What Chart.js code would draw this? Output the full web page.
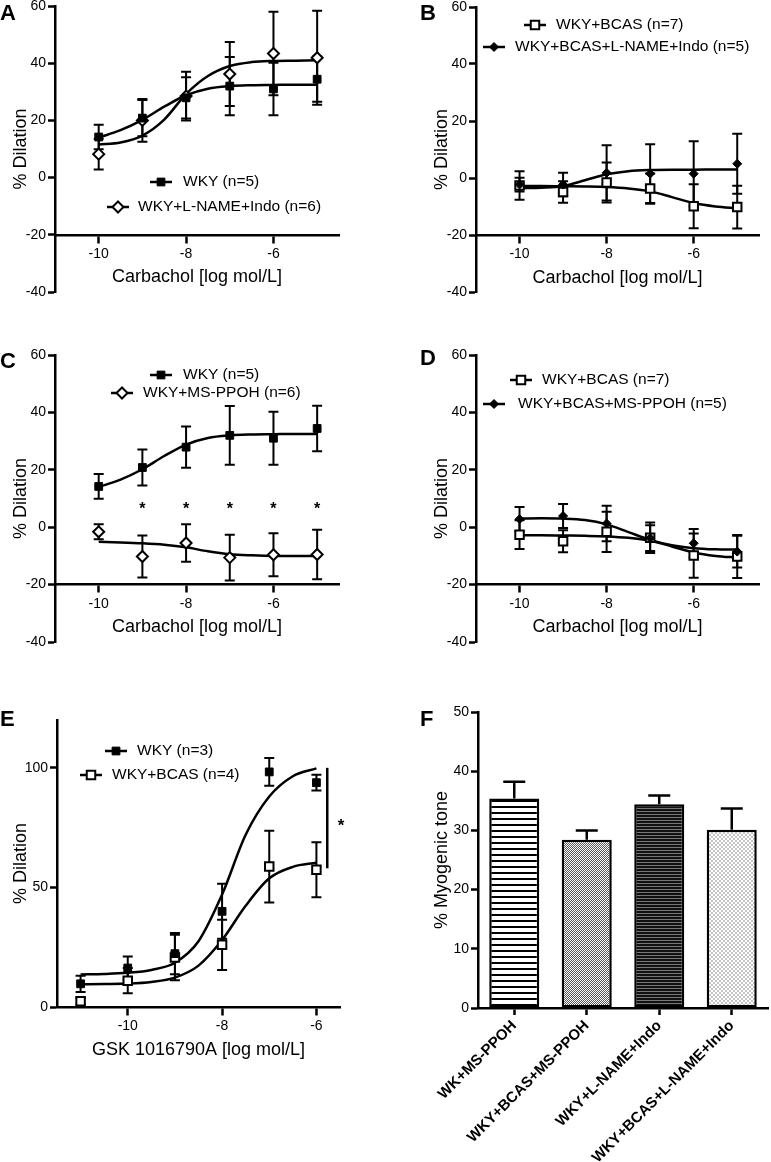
<!DOCTYPE html>
<html>
<head>
<meta charset="utf-8">
<script src="https://cdn.jsdelivr.net/npm/chart.js@4.4.0/dist/chart.umd.min.js"></script>
<style>
  body { margin: 0; background: #fff; width: 771px; height: 1162px; position: relative; overflow: hidden; }
  canvas { position: absolute; }
</style>
</head>
<body>
<canvas id="cA"></canvas>
<canvas id="cB"></canvas>
<canvas id="cC"></canvas>
<canvas id="cD"></canvas>
<canvas id="cE"></canvas>
<canvas id="cF"></canvas>
<script>
const FONT = "'Liberation Sans', Arial, Helvetica, sans-serif";

// --- carbachol panels (A-D) ---
const doseCarb = [-10, -9, -8, -7, -6, -5];
const fitCarb = [-10, -9.5, -9, -8.5, -8, -7.5, -7, -6.5, -6, -5.5, -5];
const carbTicksX = [-10, -8, -6];
const dilTicksY = [-40, -20, 0, 20, 40, 60];

const wkyMean = [14.2, 20.8, 27.9, 32.0, 31.0, 34.4];
const wkySem = [4.3, 6.3, 7.2, 10.2, 9.2, 7.9];
const wkyFit = [14.0, 16.6, 20.2, 24.8, 28.8, 31.1, 32.0, 32.3, 32.4, 32.5, 32.5];

const lnameMean = [8.2, 20.0, 28.5, 36.2, 43.4, 41.9];
const lnameSem = [5.4, 7.5, 8.5, 11.2, 14.6, 16.4];
const lnameFit = [11.6, 12.3, 14.7, 20.3, 29.2, 35.5, 39.0, 40.4, 40.8, 40.9, 41.0];

const bcasMean = [-2.6, -4.9, -1.6, -3.7, -9.9, -10.2];
const bcasSem = [5.0, 3.8, 7.0, 5.3, 7.7, 7.5];
const bcasFit = [-2.8, -2.8, -2.9, -3.0, -3.2, -3.7, -4.7, -6.7, -8.8, -10.0, -10.6];

const bcasLnMean = [-2.3, -2.3, 1.8, 1.5, 1.5, 5.0];
const bcasLnSem = [2.4, 4.1, 9.7, 10.3, 11.4, 10.5];
const bcasLnFit = [-3.6, -3.4, -2.8, -0.8, 1.3, 2.4, 2.8, 2.9, 2.9, 3.0, 3.0];

const ppohMean = [-1.6, -10.2, -5.5, -10.6, -9.6, -9.5];
const ppohSem = [2.6, 7.3, 6.5, 8.0, 7.5, 8.6];
const ppohFit = [-5.1, -5.3, -5.6, -6.1, -7.0, -8.4, -9.4, -9.8, -10.0, -10.0, -10.0];
const starsX = [-9, -8, -7, -6, -5];
const starsY = [7.2, 7.2, 7.2, 7.2, 7.2];

const bcasPpohMean = [2.8, 3.9, 1.3, -3.8, -5.6, -8.5];
const bcasPpohSem = [4.2, 4.2, 6.2, 4.5, 5.0, 5.5];
const bcasPpohFit = [3.0, 3.1, 3.0, 2.5, 1.0, -1.7, -4.4, -6.3, -7.3, -7.7, -7.8];

// --- GSK panel (E) ---
const doseGsk = [-11, -10, -9, -8, -7, -6];
const fitGsk = [-11, -10.5, -10, -9.5, -9, -8.5, -8, -7.5, -7, -6.5, -6];
const gskTicksX = [-10, -8, -6];
const gskTicksY = [0, 50, 100];
const wkyGskMean = [9.7, 16.3, 22.3, 40.0, 98.3, 93.8];
const wkyGskSem = [3.4, 4.8, 8.6, 11.5, 5.8, 3.3];
const wkyGskFit = [13.6, 13.8, 14.3, 15.5, 18.5, 27.5, 47.0, 72.0, 88.0, 96.5, 99.8];
const bcasGskMean = [2.4, 11.0, 20.7, 26.0, 58.7, 57.4];
const bcasGskSem = [1.5, 5.3, 9.5, 10.5, 15.0, 11.5];
const bcasGskFit = [9.5, 9.6, 9.8, 10.5, 12.3, 17.3, 28.0, 42.3, 53.8, 58.6, 60.3];
const sigLineX = -5.77;
const sigLineY = [58, 100];
const sigStarX = [-5.48];
const sigStarY = [77];

// --- myogenic tone (F) ---
const toneLabels = ['WK+MS-PPOH', 'WKY+BCAS+MS-PPOH', 'WKY+L-NAME+Indo', 'WKY+BCAS+L-NAME+Indo'];
const toneMean = [35.4, 28.4, 34.4, 30.1];
const toneSem = [2.8, 1.6, 1.5, 3.6];
const toneTicksY = [0, 10, 20, 30, 40, 50];

Chart.defaults.font.family = FONT;
Chart.defaults.color = '#000';

const MARK = {
  fillSq: { pointStyle: 'rect', pointRadius: 5.5, pointBackgroundColor: '#000', pointBorderColor: '#000', pointBorderWidth: 1 },
  openSq: { pointStyle: 'rect', pointRadius: 6, pointBackgroundColor: '#fff', pointBorderColor: '#000', pointBorderWidth: 2 },
  openDia: { pointStyle: 'rectRot', pointRadius: 5.5, pointBackgroundColor: '#fff', pointBorderColor: '#000', pointBorderWidth: 2 },
  fillDia: { pointStyle: 'rectRot', pointRadius: 4.5, pointBackgroundColor: '#000', pointBorderColor: '#000', pointBorderWidth: 1 }
};

function toPts(xs, ys) {
  return xs.map((x, i) => ({ x: x, y: ys[i] }));
}

// fitted curve, drawn under the points
function fitLine(xs, ys) {
  return {
    type: 'scatter', data: toPts(xs, ys), showLine: true, borderColor: '#000', borderWidth: 2.5,
    pointRadius: 0, cubicInterpolationMode: 'monotone', fill: false, order: 2
  };
}

// mean +/- sem points
function meanPts(xs, ys, errs, mark) {
  return Object.assign({ type: 'scatter', data: toPts(xs, ys), errors: errs, showLine: false, order: 0 }, mark);
}

function drawMarker(ctx, m, x, y) {
  const r = m.pointRadius;
  ctx.save();
  ctx.fillStyle = m.pointBackgroundColor;
  ctx.strokeStyle = m.pointBorderColor;
  ctx.lineWidth = m.pointBorderWidth;
  ctx.beginPath();
  if (m.pointStyle === 'rect') {
    const h = r * Math.SQRT1_2;
    ctx.rect(x - h, y - h, 2 * h, 2 * h);
  } else {
    ctx.moveTo(x - r, y); ctx.lineTo(x, y - r); ctx.lineTo(x + r, y); ctx.lineTo(x, y + r); ctx.closePath();
  }
  ctx.fill();
  ctx.stroke();
  ctx.restore();
}

const panelDecor = {
  id: 'panelDecor',
  beforeDatasetsDraw(chart) {
    // symmetric error bars for points
    const ctx = chart.ctx;
    const ys = chart.scales.y;
    chart.data.datasets.forEach((ds, i) => {
      if (!ds.errors || ds.errUp) return;
      const meta = chart.getDatasetMeta(i);
      ctx.save();
      ctx.strokeStyle = '#000';
      ctx.lineWidth = 2;
      meta.data.forEach((el, j) => {
        const v = ds.data[j].y, e = ds.errors[j];
        const t = ys.getPixelForValue(v + e), b = ys.getPixelForValue(v - e);
        ctx.beginPath();
        ctx.moveTo(el.x, t); ctx.lineTo(el.x, b);
        ctx.moveTo(el.x - 5, t); ctx.lineTo(el.x + 5, t);
        ctx.moveTo(el.x - 5, b); ctx.lineTo(el.x + 5, b);
        ctx.stroke();
      });
      ctx.restore();
    });
  },
  afterDatasetsDraw(chart, args, opts) {
    const ctx = chart.ctx;
    const xs = chart.scales.x, ys = chart.scales.y;
    // upward error bars for bars
    chart.data.datasets.forEach((ds, i) => {
      if (!ds.errUp) return;
      const meta = chart.getDatasetMeta(i);
      ctx.save();
      ctx.strokeStyle = '#000';
      ctx.lineWidth = 2.5;
      meta.data.forEach((el, j) => {
        const t = ys.getPixelForValue(ds.data[j] + ds.errors[j]);
        ctx.beginPath();
        ctx.moveTo(el.x, el.y); ctx.lineTo(el.x, t);
        ctx.moveTo(el.x - 11, t); ctx.lineTo(el.x + 11, t);
        ctx.stroke();
      });
      ctx.restore();
    });
    if (opts.stars) {
      ctx.save();
      ctx.fillStyle = '#000';
      ctx.font = opts.stars.font;
      ctx.textAlign = 'center';
      ctx.textBaseline = 'middle';
      opts.stars.x.forEach((x, i) => {
        ctx.fillText('*', xs.getPixelForValue(x), ys.getPixelForValue(opts.stars.y[i]) + 3);
      });
      ctx.restore();
    }
    if (opts.bracket) {
      const bx = xs.getPixelForValue(opts.bracket.x);
      ctx.save();
      ctx.strokeStyle = '#000';
      ctx.lineWidth = 2.5;
      ctx.beginPath();
      ctx.moveTo(bx, ys.getPixelForValue(opts.bracket.y[0]));
      ctx.lineTo(bx, ys.getPixelForValue(opts.bracket.y[1]));
      ctx.stroke();
      ctx.restore();
    }
  },
  afterDraw(chart, args, opts) {
    const ctx = chart.ctx;
    const ox = opts.box.l, oy = opts.box.t;
    (opts.legend || []).forEach(it => {
      const cx = it.cx - ox, cy = it.cy - oy;
      ctx.save();
      ctx.strokeStyle = '#000';
      ctx.lineWidth = 2.5;
      ctx.beginPath();
      ctx.moveTo(cx - 11, cy); ctx.lineTo(cx + 11, cy);
      ctx.stroke();
      drawMarker(ctx, it.mark, cx, cy);
      ctx.fillStyle = '#000';
      ctx.font = '15.5px ' + FONT;
      ctx.textAlign = 'left';
      ctx.textBaseline = 'middle';
      ctx.fillText(it.text, it.tx - ox, cy);
      ctx.restore();
    });
    if (opts.letter) {
      ctx.save();
      ctx.fillStyle = '#000';
      ctx.font = 'bold 22px ' + FONT;
      ctx.textAlign = 'left';
      ctx.textBaseline = 'alphabetic';
      ctx.fillText(opts.letter.text, opts.letter.x - ox, opts.letter.y - oy);
      ctx.restore();
    }
  }
};

function placeCanvas(id, box) {
  const el = document.getElementById(id);
  el.width = box.w;
  el.height = box.h;
  el.style.left = box.l + 'px';
  el.style.top = box.t + 'px';
  return el;
}

function padFor(box, area, yWidth) {
  return {
    left: area.l - box.l - yWidth,
    top: area.t - box.t,
    right: box.l + box.w - area.r,
    bottom: box.t + box.h - area.b
  };
}

const axisGrid = { drawOnChartArea: false, drawTicks: true, tickLength: 7, tickWidth: 2.5, tickColor: '#000' };
const axisBorder = { display: true, color: '#000', width: 2.5 };

function doseChart(id, p) {
  const el = placeCanvas(id, p.box);
  return new Chart(el, {
    type: 'scatter',
    data: { datasets: p.datasets },
    options: {
      responsive: false, animation: false, events: [], devicePixelRatio: 1,
      layout: { padding: padFor(p.box, p.area, p.yWidth) },
      plugins: {
        legend: { display: false },
        tooltip: { enabled: false },
        panelDecor: Object.assign({ box: p.box }, p.decor)
      },
      scales: {
        x: {
          type: 'linear', min: p.xRange[0], max: p.xRange[1], position: { y: p.xAt },
          afterBuildTicks: s => { s.ticks = p.xTicks.map(v => ({ value: v })); },
          grid: axisGrid, border: axisBorder,
          ticks: { color: '#000', font: { size: 14 }, padding: 4, maxRotation: 0, autoSkip: false, callback: v => String(v) },
          title: { display: true, text: p.xTitle, color: '#000', font: { size: 18 }, padding: { top: 0, bottom: 0 } }
        },
        y: {
          type: 'linear', min: p.yRange[0], max: p.yRange[1],
          afterBuildTicks: s => { s.ticks = p.yTicks.map(v => ({ value: v })); },
          afterFit: s => { s.width = p.yWidth; },
          grid: axisGrid, border: axisBorder,
          ticks: { color: '#000', font: { size: 14 }, padding: 2, autoSkip: false, callback: v => String(v) },
          title: { display: true, text: '% Dilation', color: '#000', font: { size: 18 }, padding: { top: 10, bottom: 0 } }
        }
      }
    },
    plugins: [panelDecor]
  });
}

const CARB_TITLE = 'Carbachol [log mol/L]';

// A
doseChart('cA', {
  box: { l: 0, t: -10, w: 385, h: 330 }, area: { l: 55, t: 6, r: 339, b: 292 }, yWidth: 55,
  xRange: [-11, -4.5], yRange: [-40, 60], xAt: -20, xTicks: carbTicksX, yTicks: dilTicksY, xTitle: CARB_TITLE,
  datasets: [
    meanPts(doseCarb, wkyMean, wkySem, MARK.fillSq),
    meanPts(doseCarb, lnameMean, lnameSem, MARK.openDia),
    fitLine(fitCarb, wkyFit),
    fitLine(fitCarb, lnameFit)
  ],
  decor: {
    letter: { text: 'A', x: 0, y: 20 },
    legend: [
      { text: 'WKY (n=5)', mark: MARK.fillSq, cx: 161, cy: 182, tx: 183 },
      { text: 'WKY+L-NAME+Indo (n=6)', mark: MARK.openDia, cx: 118, cy: 207, tx: 138 }
    ]
  }
});

// B
doseChart('cB', {
  box: { l: 385, t: -10, w: 386, h: 330 }, area: { l: 476, t: 7, r: 759, b: 292 }, yWidth: 55,
  xRange: [-11, -4.5], yRange: [-40, 60], xAt: -20, xTicks: carbTicksX, yTicks: dilTicksY, xTitle: CARB_TITLE,
  datasets: [
    meanPts(doseCarb, bcasLnMean, bcasLnSem, MARK.fillDia),
    meanPts(doseCarb, bcasMean, bcasSem, MARK.openSq),
    fitLine(fitCarb, bcasFit),
    fitLine(fitCarb, bcasLnFit)
  ],
  decor: {
    letter: { text: 'B', x: 420, y: 20 },
    legend: [
      { text: 'WKY+BCAS (n=7)', mark: MARK.openSq, cx: 535, cy: 25, tx: 556 },
      { text: 'WKY+BCAS+L-NAME+Indo (n=5)', mark: MARK.fillDia, cx: 494, cy: 47, tx: 515 }
    ]
  }
});

// C
doseChart('cC', {
  box: { l: 0, t: 320, w: 385, h: 340 }, area: { l: 55, t: 355, r: 339, b: 642 }, yWidth: 55,
  xRange: [-11, -4.5], yRange: [-40, 60], xAt: -20, xTicks: carbTicksX, yTicks: dilTicksY, xTitle: CARB_TITLE,
  datasets: [
    meanPts(doseCarb, wkyMean, wkySem, MARK.fillSq),
    meanPts(doseCarb, ppohMean, ppohSem, MARK.openDia),
    fitLine(fitCarb, wkyFit),
    fitLine(fitCarb, ppohFit)
  ],
  decor: {
    letter: { text: 'C', x: 0, y: 368 },
    stars: { x: starsX, y: starsY, font: 'bold 16px ' + FONT },
    legend: [
      { text: 'WKY (n=5)', mark: MARK.fillSq, cx: 161, cy: 375, tx: 183 },
      { text: 'WKY+MS-PPOH (n=6)', mark: MARK.openDia, cx: 122, cy: 393, tx: 143 }
    ]
  }
});

// D
doseChart('cD', {
  box: { l: 385, t: 320, w: 386, h: 340 }, area: { l: 476, t: 355, r: 759, b: 642 }, yWidth: 55,
  xRange: [-11, -4.5], yRange: [-40, 60], xAt: -20, xTicks: carbTicksX, yTicks: dilTicksY, xTitle: CARB_TITLE,
  datasets: [
    meanPts(doseCarb, bcasPpohMean, bcasPpohSem, MARK.fillDia),
    meanPts(doseCarb, bcasMean, bcasSem, MARK.openSq),
    fitLine(fitCarb, bcasFit),
    fitLine(fitCarb, bcasPpohFit)
  ],
  decor: {
    letter: { text: 'D', x: 420, y: 365 },
    legend: [
      { text: 'WKY+BCAS (n=7)', mark: MARK.openSq, cx: 521, cy: 380, tx: 542 },
      { text: 'WKY+BCAS+MS-PPOH (n=5)', mark: MARK.fillDia, cx: 494, cy: 404, tx: 518 }
    ]
  }
});

// E
doseChart('cE', {
  box: { l: 0, t: 650, w: 385, h: 420 }, area: { l: 57, t: 720, r: 340, b: 1007 }, yWidth: 57,
  xRange: [-11.5, -5.5], yRange: [0, 120], xAt: 0, xTicks: gskTicksX, yTicks: gskTicksY, xTitle: 'GSK 1016790A [log mol/L]',
  datasets: [
    meanPts(doseGsk, wkyGskMean, wkyGskSem, MARK.fillSq),
    meanPts(doseGsk, bcasGskMean, bcasGskSem, MARK.openSq),
    fitLine(fitGsk, wkyGskFit),
    fitLine(fitGsk, bcasGskFit)
  ],
  decor: {
    letter: { text: 'E', x: 0, y: 726 },
    bracket: { x: sigLineX, y: sigLineY },
    stars: { x: sigStarX, y: sigStarY, font: 'bold 17px ' + FONT },
    legend: [
      { text: 'WKY (n=3)', mark: MARK.fillSq, cx: 116, cy: 751, tx: 137 },
      { text: 'WKY+BCAS (n=4)', mark: MARK.openSq, cx: 91, cy: 775, tx: 112 }
    ]
  }
});

// F - fill patterns for the bars
function makePattern(w, h, paint) {
  const c = document.createElement('canvas');
  c.width = w; c.height = h;
  const g = c.getContext('2d');
  paint(g);
  return g.createPattern(c, 'repeat');
}
const hStripes = makePattern(6, 6, g => {
  g.fillStyle = '#fff'; g.fillRect(0, 0, 6, 6);
  g.fillStyle = '#000'; g.fillRect(0, 0, 6, 2);
});
const fineCheck = makePattern(2, 2, g => {
  g.fillStyle = '#fff'; g.fillRect(0, 0, 2, 2);
  g.fillStyle = '#555'; g.fillRect(0, 0, 1, 1); g.fillRect(1, 1, 1, 1);
});
const darkLines = makePattern(3, 3, g => {
  g.fillStyle = '#111'; g.fillRect(0, 0, 3, 3);
  g.fillStyle = '#777'; g.fillRect(0, 2, 3, 1);
});
const lightCheck = makePattern(4, 4, g => {
  g.fillStyle = '#fff'; g.fillRect(0, 0, 4, 4);
  g.fillStyle = '#c4c4c4'; g.fillRect(0, 0, 2, 2); g.fillRect(2, 2, 2, 2);
});

const boxF = { l: 385, t: 650, w: 386, h: 512 };
const areaF = { l: 478, t: 712, r: 768, b: 1008 };
const padF = padFor(boxF, areaF, 57);
padF.bottom = 0; // the x axis itself fills the space under the bars
new Chart(placeCanvas('cF', boxF), {
  type: 'bar',
  data: {
    labels: toneLabels,
    datasets: [{
      data: toneMean, errors: toneSem, errUp: true,
      backgroundColor: [hStripes, fineCheck, darkLines, lightCheck],
      borderColor: '#000', borderWidth: 2.5, borderSkipped: false,
      barPercentage: 0.69, categoryPercentage: 1
    }]
  },
  options: {
    responsive: false, animation: false, events: [], devicePixelRatio: 1,
    layout: { padding: padF },
    plugins: {
      legend: { display: false },
      tooltip: { enabled: false },
      panelDecor: { box: boxF, letter: { text: 'F', x: 420, y: 726 } }
    },
    scales: {
      x: {
        afterFit: s => { s.height = boxF.t + boxF.h - areaF.b; },
        grid: Object.assign({}, axisGrid, { offset: false }), border: axisBorder,
        ticks: { color: '#000', font: { size: 15, weight: 'bold' }, padding: 2, minRotation: 45, maxRotation: 45, autoSkip: false }
      },
      y: {
        min: 0, max: 50,
        afterBuildTicks: s => { s.ticks = toneTicksY.map(v => ({ value: v })); },
        afterFit: s => { s.width = 57; },
        grid: axisGrid, border: axisBorder,
        ticks: { color: '#000', font: { size: 14 }, padding: 2, autoSkip: false, callback: v => String(v) },
        title: { display: true, text: '% Myogenic tone', color: '#000', font: { size: 18 }, padding: { top: 10, bottom: 0 } }
      }
    }
  },
  plugins: [panelDecor]
});
</script>
</body>
</html>
